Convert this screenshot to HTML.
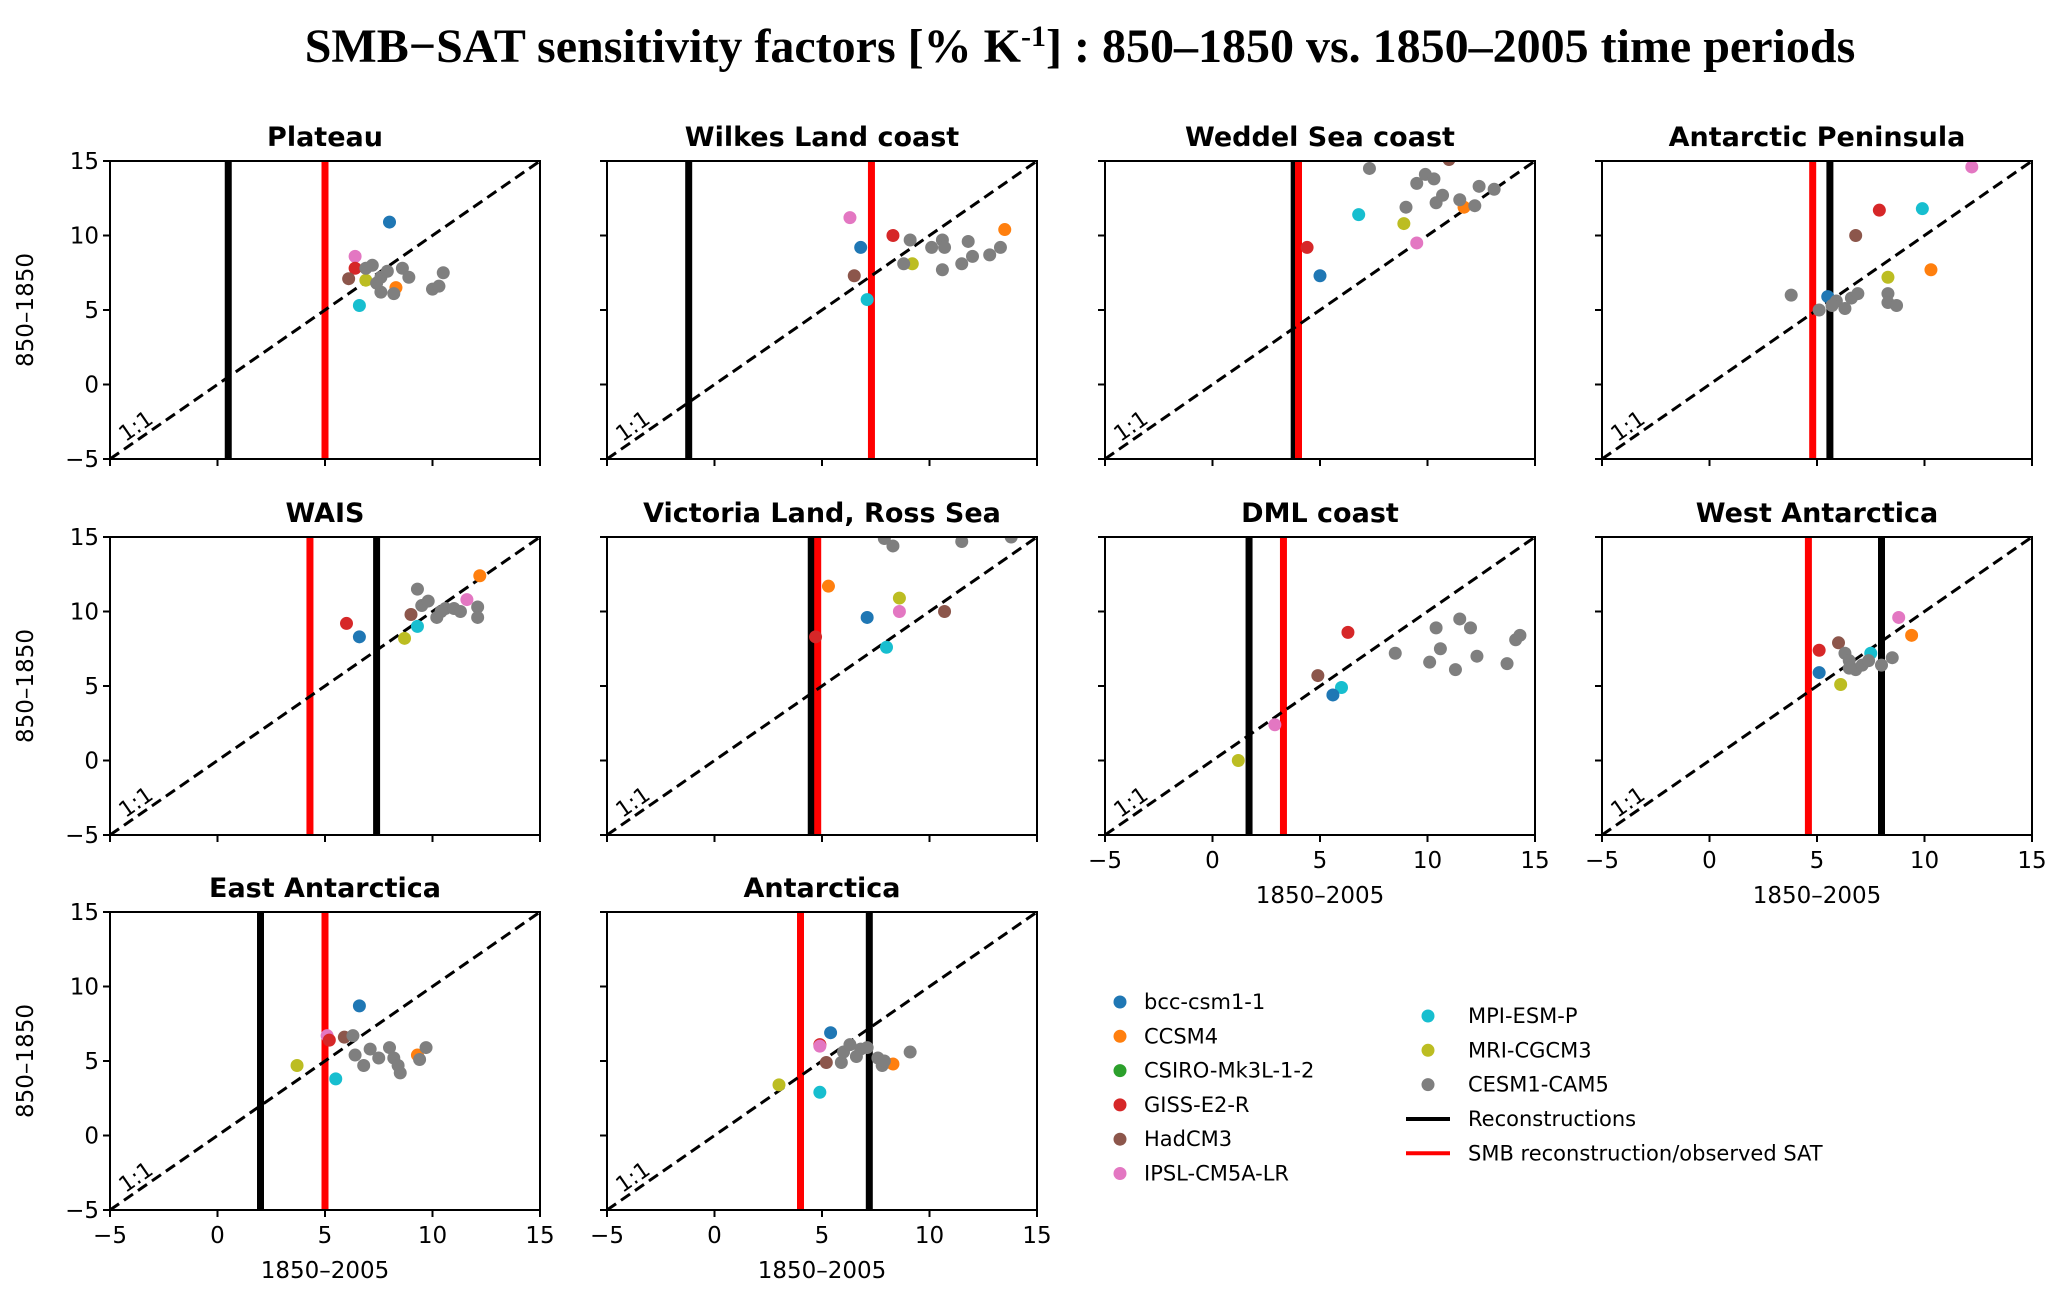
<!DOCTYPE html>
<html><head><meta charset="utf-8">
<style>
body{margin:0;background:#fff;}
svg{display:block;}
text{font-family:"DejaVu Sans","Liberation Sans",sans-serif;}
</style></head>
<body>
<svg id="fig" width="2067" height="1304" viewBox="0 0 2067 1304" xmlns="http://www.w3.org/2000/svg">
<text x="1080" y="62" text-anchor="middle" font-size="48" font-weight="bold" style="font-family:'Liberation Serif',serif">SMB−SAT sensitivity factors [% K<tspan dy="-16" font-size="30">-1</tspan><tspan dy="16">] : 850–1850 vs. 1850–2005 time periods</tspan></text>
<g id="panels"></g>
<g id="legend"></g>
</svg>
<script>
const modelNames = ["bcc-csm1-1","CCSM4","CSIRO-Mk3L-1-2","GISS-E2-R","HadCM3","IPSL-CM5A-LR","MPI-ESM-P","MRI-CGCM3","CESM1-CAM5"];
const modelColors = ["#1f77b4","#ff7f0e","#2ca02c","#d62728","#8c564b","#e377c2","#17becf","#bcbd22","#7f7f7f"];
const panelTitles = ["Plateau","Wilkes Land coast","Weddel Sea coast","Antarctic Peninsula","WAIS","Victoria Land, Ross Sea","DML coast","West Antarctica","East Antarctica","Antarctica"];
const reconLines = [0.5,-1.2,3.8,5.6,7.4,4.5,1.7,8.0,2.0,7.2];
const smbLines = [5.0,7.3,4.0,4.8,4.3,4.8,3.3,4.6,5.0,4.0];
const tickValues = [-5,0,5,10,15];
const tickLabels = ["−5","0","5","10","15"];
// per-panel points: model index, x (1850–2005), y (850–1850)
const ptModel = [
 [0,5,3,4,7,6,1,8,8,8,8,8,8,8,8,8,8,8,8],
 [5,0,3,4,6,7,1,8,8,8,8,8,8,8,8,8,8,8],
 [3,0,6,7,5,1,4,8,8,8,8,8,8,8,8,8,8,8],
 [5,6,3,4,7,1,0,8,8,8,8,8,8,8,8,8,8],
 [1,5,3,0,4,7,6,8,8,8,8,8,8,8,8,8,8],
 [1,3,0,6,7,5,4,8,8,8,8],
 [3,4,6,0,5,7,8,8,8,8,8,8,8,8,8,8,8],
 [5,1,4,3,6,0,7,8,8,8,8,8,8,8,8],
 [0,5,3,4,7,6,1,8,8,8,8,8,8,8,8,8,8,8],
 [0,3,5,4,7,6,1,8,8,8,8,8,8,8,8,8,8]
];
const ptX = [
 [8.0,6.4,6.4,6.1,6.9,6.6,8.3,7.2,7.6,7.9,7.6,8.2,8.6,8.9,10.0,10.3,10.5,7.4,6.9],
 [6.3,6.8,8.3,6.5,7.1,9.2,13.5,8.8,9.1,10.1,10.6,10.7,10.6,11.5,11.8,12.0,12.8,13.3],
 [4.4,5.0,6.8,8.9,9.5,11.7,11.0,7.3,9.0,9.5,9.9,10.3,10.4,10.7,11.5,12.2,12.4,13.1],
 [12.2,9.9,7.9,6.8,8.3,10.3,5.5,3.8,5.1,5.9,6.3,6.6,6.9,8.3,8.3,8.7,5.7],
 [12.2,11.6,6.0,6.6,9.0,8.7,9.3,9.3,9.5,9.8,10.2,10.6,11.0,11.3,12.1,12.1,10.4],
 [5.3,4.7,7.1,8.0,8.6,8.6,10.7,8.3,7.9,11.5,13.8],
 [6.3,4.9,6.0,5.6,2.9,1.2,8.5,10.4,11.5,12.0,10.6,10.1,11.3,12.3,13.7,14.1,14.3],
 [8.8,9.4,6.0,5.1,7.5,5.1,6.1,6.3,6.5,6.8,7.1,7.4,8.0,8.5,6.5],
 [6.6,5.1,5.2,5.9,3.7,5.5,9.3,6.3,6.4,6.8,7.1,7.5,8.0,8.2,8.4,8.5,9.4,9.7],
 [5.4,4.9,4.9,5.2,3.0,4.9,8.3,5.9,6.0,6.3,6.6,6.8,7.1,7.6,7.8,7.9,9.1]
];
const ptY = [
 [10.9,8.6,7.8,7.1,7.0,5.3,6.5,8.0,7.2,7.6,6.2,6.1,7.8,7.2,6.4,6.6,7.5,6.8,7.8],
 [11.2,9.2,10.0,7.3,5.7,8.1,10.4,8.1,9.7,9.2,9.7,9.2,7.7,8.1,9.6,8.6,8.7,9.2],
 [9.2,7.3,11.4,10.8,9.5,11.9,15.1,14.5,11.9,13.5,14.1,13.8,12.2,12.7,12.4,12.0,13.3,13.1],
 [14.6,11.8,11.7,10.0,7.2,7.7,5.9,6.0,5.0,5.6,5.1,5.8,6.1,6.1,5.5,5.3,5.3],
 [12.4,10.8,9.2,8.3,9.8,8.2,9.0,11.5,10.4,10.7,9.6,10.2,10.2,10.0,10.3,9.6,10.0],
 [11.7,8.3,9.6,7.6,10.9,10.0,10.0,14.4,14.9,14.7,15.0],
 [8.6,5.7,4.9,4.4,2.4,0.0,7.2,8.9,9.5,8.9,7.5,6.6,6.1,7.0,6.5,8.1,8.4],
 [9.6,8.4,7.9,7.4,7.2,5.9,5.1,7.2,6.7,6.1,6.4,6.7,6.4,6.9,6.2],
 [8.7,6.7,6.4,6.6,4.7,3.8,5.4,6.7,5.4,4.7,5.8,5.2,5.9,5.2,4.7,4.2,5.1,5.9],
 [6.9,6.1,6.0,4.9,3.4,2.9,4.8,4.9,5.6,6.1,5.3,5.8,5.9,5.2,4.7,5.0,5.6]
];

const NS = "http://www.w3.org/2000/svg";
const colLeft = [110, 607, 1105, 1602];
const rowTop = [161, 537, 912];
const PW = 430, PH = 298;
const panelPos = [[0,0],[0,1],[0,2],[0,3],[1,0],[1,1],[1,2],[1,3],[2,0],[2,1]];
const showX = [false,false,false,false,false,false,true,true,true,true];
const showY = [true,false,false,false,true,false,false,false,true,false];
function mk(tag, attrs, parent){ const e=document.createElementNS(NS,tag); for(const k in attrs) e.setAttribute(k,attrs[k]); parent.appendChild(e); return e; }
const root = document.getElementById("panels");
panelTitles.forEach((title,i)=>{
  const [r,c] = panelPos[i];
  const L = colLeft[c], T = rowTop[r];
  const sx = v => L + (v+5)/20*PW;
  const sy = v => T + PH - (v+5)/20*PH;
  const g = mk("g",{},root);
  
  
  const cp = mk("clipPath",{id:"cp"+i},g);
  mk("rect",{x:L,y:T,width:PW,height:PH},cp);
  const t = mk("text",{x:L+PW/2,y:T-15,"text-anchor":"middle","font-size":27,"font-weight":"bold"},g);
  t.textContent = title;
  
  
  const plot = mk("g",{"clip-path":"url(#cp"+i+")"},g);
  const rl = mk("line",{x1:sx(reconLines[i]),x2:sx(reconLines[i]),y1:T,y2:T+PH,stroke:"#000","stroke-width":7},plot);
  
  
  const sl = mk("line",{x1:sx(smbLines[i]),x2:sx(smbLines[i]),y1:T,y2:T+PH,stroke:"#ff0000","stroke-width":7},plot);
  
  
  const dl = mk("line",{x1:sx(-5),y1:sy(-5),x2:sx(15),y2:sy(15),stroke:"#000","stroke-width":3,"stroke-dasharray":"11,6"},plot);
  
  
  ptModel[i].forEach((m,j)=>{
    const d = mk("circle",{cx:sx(ptX[i][j]),cy:sy(ptY[i][j]),r:6.5,fill:modelColors[m]},plot);
    
    
  });
  const ang = -Math.atan(PH/PW)*180/Math.PI;
  const lx = sx(-3.6), ly = sy(-3.6)-6;
  const lt = mk("text",{x:lx,y:ly,"font-size":22,"text-anchor":"middle",transform:`rotate(${ang} ${lx} ${ly})`},g);
  lt.textContent = "1:1";
  
  
  mk("rect",{x:L,y:T,width:PW,height:PH,fill:"none",stroke:"#000","stroke-width":2},g);
  tickValues.forEach((v,k)=>{
    mk("line",{x1:sx(v),x2:sx(v),y1:T+PH,y2:T+PH+7,stroke:"#000","stroke-width":2},g);
    mk("line",{x1:L-7,x2:L,y1:sy(v),y2:sy(v),stroke:"#000","stroke-width":2},g);
    if(showX[i]){
      const tx = mk("text",{x:sx(v),y:T+PH+33,"text-anchor":"middle","font-size":23},g);
      tx.textContent = tickLabels[k];
      
      
    }
    if(showY[i]){
      const ty = mk("text",{x:L-11,y:sy(v)+8,"text-anchor":"end","font-size":23},g);
      ty.textContent = tickLabels[k];
      
      
    }
  });
  if(showX[i]){
    const xl = mk("text",{x:L+PW/2,y:T+PH+68,"text-anchor":"middle","font-size":23},g);
    xl.textContent = "1850–2005";
    
    
  }
  if(showY[i]){
    const yx = 33, yy = T+PH/2;
    const yl = mk("text",{x:yx,y:yy,"text-anchor":"middle","font-size":23,transform:`rotate(-90 ${yx} ${yy})`},g);
    yl.textContent = "850–1850";
    
    
  }
});
// legend
const lg = document.getElementById("legend");
const leg1 = [0,1,2,3,4,5];
const leg2 = [6,7,8];
leg1.forEach((m,k)=>{
  const y = 1002 + k*34.3;
  const c = mk("circle",{cx:1120,cy:y,r:6.5,fill:modelColors[m]},lg);
  
  
  const t = mk("text",{x:1144,y:y+7,"font-size":21},lg);
  t.textContent = modelNames[m];
  
  
});
leg2.forEach((m,k)=>{
  const y = 1016 + k*34.3;
  const c = mk("circle",{cx:1428,cy:y,r:6.5,fill:modelColors[m]},lg);
  
  
  const t = mk("text",{x:1468,y:y+7,"font-size":21},lg);
  t.textContent = modelNames[m];
  
  
});
[["Reconstructions","#000"],["SMB reconstruction/observed SAT","#ff0000"]].forEach((e,k)=>{
  const y = 1119 + k*34.3;
  const l = mk("line",{x1:1406,x2:1450,y1:y,y2:y,stroke:e[1],"stroke-width":4},lg);
  
  
  const t = mk("text",{x:1468,y:y+7,"font-size":21},lg);
  t.textContent = e[0];
  
  
});
</script>
</body></html>
